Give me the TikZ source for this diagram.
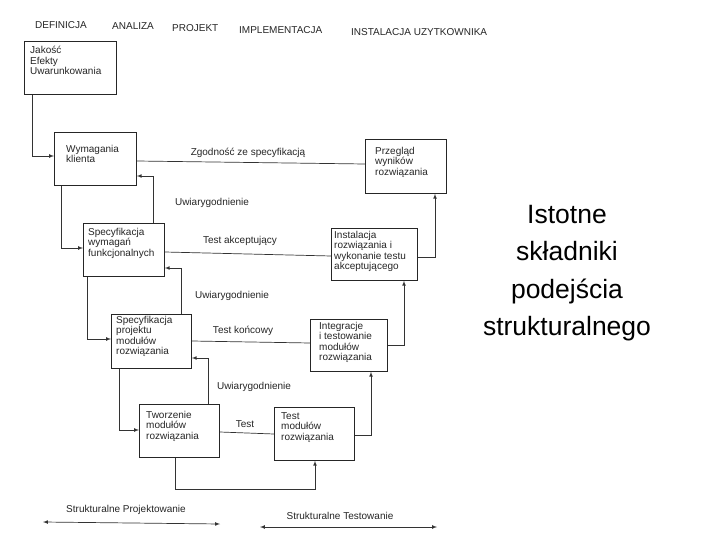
\documentclass[tikz,border=0pt]{standalone}
\usepackage{fontspec}
\setmainfont{Liberation Sans}
\begin{document}
\begin{tikzpicture}[x=1pt,y=-1pt,
  box/.style={draw=black!85,line width=0.8pt,anchor=north west,align=left,inner sep=0pt},
  txt/.style={font=\fontsize{10}{10.5}\selectfont,text=black!85},
  ln/.style={draw=black!80,line width=0.7pt},
  arr/.style={ln,-latex}]
\useasboundingbox (0,0) rectangle (720,540);
\fill[white] (0,0) rectangle (720,540);
\node[box,minimum width=92,minimum height=53] (jak) at (24,41) {};
\node[box,minimum width=82,minimum height=53] (wym) at (54,132) {};
\node[box,minimum width=81,minimum height=54] (prz) at (365,139) {};
\node[box,minimum width=81,minimum height=53] (sw) at (83,223) {};
\node[box,minimum width=86,minimum height=52] (ins) at (331,228) {};
\node[box,minimum width=80,minimum height=54] (sp) at (111,314) {};
\node[box,minimum width=77,minimum height=52] (int) at (310,319) {};
\node[box,minimum width=80,minimum height=53] (tw) at (139,404) {};
\node[box,minimum width=80,minimum height=53] (tm) at (274,407) {};
\tikzset{bt/.style={txt,anchor=north west,align=left,inner sep=0pt}}
\node[bt] at ([xshift=6pt,yshift=-5pt]jak.north west) {Jakość\\Efekty\\Uwarunkowania};
\node[bt] at ([xshift=12pt,yshift=-13pt]wym.north west) {Wymagania\\klienta};
\node[bt] at ([xshift=10pt,yshift=-8pt]prz.north west) {Przegląd\\wyników\\rozwiązania};
\node[bt] at ([xshift=5pt,yshift=-5pt]sw.north west) {Specyfikacja\\wymagań\\funkcjonalnych};
\node[bt] at ([xshift=3pt,yshift=-3pt]ins.north west) {Instalacja\\rozwiązania i\\wykonanie testu\\akceptującego};
\node[bt] at ([xshift=5pt,yshift=-2pt]sp.north west) {Specyfikacja\\projektu\\modułów\\rozwiązania};
\node[bt] at ([xshift=9pt,yshift=-3pt]int.north west) {Integracje\\i testowanie\\modułów\\rozwiązania};
\node[bt] at ([xshift=7pt,yshift=-7pt]tw.north west) {Tworzenie\\modułów\\rozwiązania};
\node[bt] at ([xshift=7pt,yshift=-5pt]tm.north west) {Test\\modułów\\rozwiązania};
\tikzset{hd/.style={txt,anchor=west,inner sep=0pt}}
\node[hd] at (35,25) {DEFINICJA};
\node[hd] at (112,26) {ANALIZA};
\node[hd] at (172,28) {PROJEKT};
\node[hd] at (239,30) {IMPLEMENTACJA};
\node[hd] at (351,32) {INSTALACJA UZYTKOWNIKA};
\draw[arr] (jak.south west -| 32,0) |- (wym.west |- 0,156);
\draw[ln] (wym.east |- 0,161) -- (prz.west |- 0,164);
\node[txt] at (248,153) {Zgodność ze specyfikacją};
\draw[arr] (wym.south west -| 61,0) |- (sw.west |- 0,248);
\draw[arr] (sw.north -| 153,0) |- (wym.east |- 0,176);
\node[txt] at (212,203) {Uwiarygodnienie};
\draw[ln] (sw.east |- 0,252) -- (ins.west |- 0,256);
\node[txt] at (240,241) {Test akceptujący};
\draw[arr] (ins.east |- 0,257) -| (prz.south -| 435,0);
\draw[arr] (sw.south -| 87,0) |- (sp.west |- 0,339);
\draw[arr] (sp.north -| 181,0) |- (sw.east |- 0,268);
\node[txt] at (232,296) {Uwiarygodnienie};
\draw[ln] (sp.east |- 0,341) -- (int.west |- 0,343);
\node[txt] at (243,331) {Test końcowy};
\draw[arr] (int.east |- 0,345) -| (ins.south -| 404,0);
\draw[arr] (sp.south -| 119,0) |- (tw.west |- 0,430);
\draw[arr] (tw.north -| 208,0) |- (sp.east |- 0,358);
\node[txt] at (254,387) {Uwiarygodnienie};
\draw[ln] (tw.east |- 0,432) -- (tm.west |- 0,434);
\node[txt] at (245,424) {Test};
\draw[arr] (tm.east |- 0,435) -| (int.south -| 371,0);
\coordinate (c1) at (175,489); \coordinate (c2) at (315,489);
\draw[arr] (tw.south -| 175,0) -- (c1) -- (c2) -- (tm.south -| 315,0);
\coordinate (p1) at (43,522); \coordinate (p2) at (220,524);
\draw[ln,latex-latex] (p1) -- (p2);
\node[txt] (pl) at (126,510) {Strukturalne Projektowanie};
\coordinate (t1) at (260,527); \coordinate (t2) at (437,527);
\draw[ln,latex-latex] (t1) -- (t2);
\node[txt] (tl) at (340,516) {Strukturalne Testowanie};
\node[font=\fontsize{26.5}{37.5}\selectfont,align=center] (title) at (567,273) {Istotne\\składniki\\podejścia\\strukturalnego};
\end{tikzpicture}
\end{document}
